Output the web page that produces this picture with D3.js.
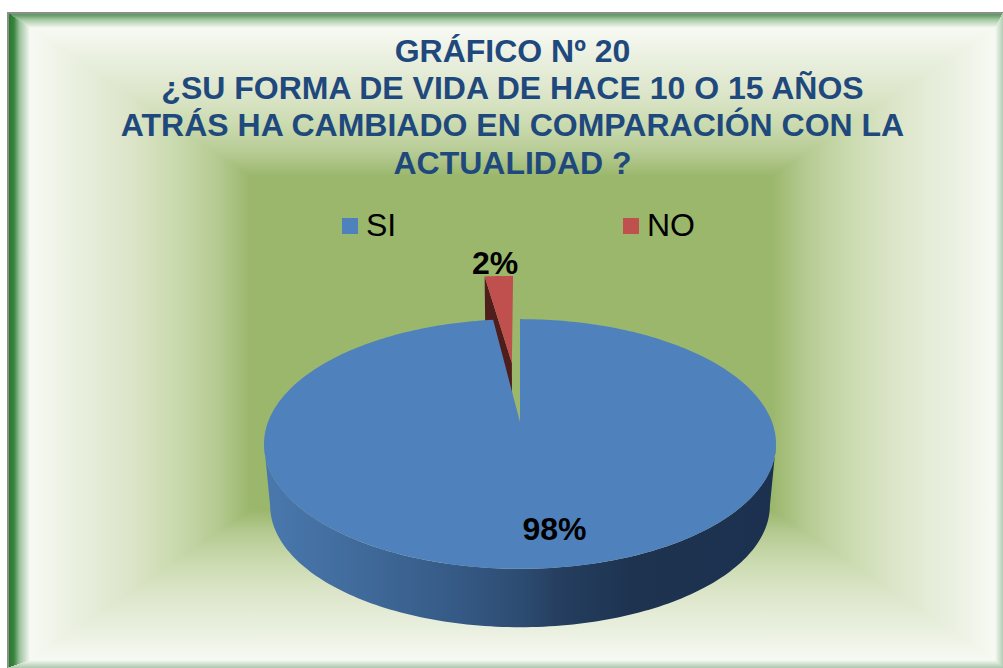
<!DOCTYPE html>
<html>
<head>
<meta charset="utf-8">
<title>Gráfico 20</title>
<script src="https://cdn.jsdelivr.net/npm/d3@7"></script>
<style>
  html, body { margin: 0; padding: 0; background: #fff; overflow: hidden; }
  text { font-family: "Liberation Sans", Arial, sans-serif; }
</style>
</head>
<body>
<div id="chart"></div>
<script>
const categories = ['SI', 'NO'];
const values = [98, 2];
const percentLabels = ['98%', '2%'];
const titleLines = [
    'GRÁFICO Nº 20',
    '¿SU FORMA DE VIDA DE HACE 10 O 15 AÑOS',
    'ATRÁS HA CAMBIADO EN COMPARACIÓN CON LA',
    'ACTUALIDAD ?'
];
const topColors = ['#4f81bd', '#c0504d'];
const wallColors = ['#1c314f', '#4f1d1c'];

const W = 1003, H = 668;

const svg = d3.select('#chart').append('svg')
    .attr('width', W).attr('height', H)
    .style('display', 'block');
const defs = svg.append('defs');

// ---- marco y fondo ----
const outer = {x0: 30, y0: 28, x1: 995, y1: 660};
const inner = {x0: 250, y0: 176, x1: 772, y1: 510};
const bgStops = [
    [0, '#f7f9f3'], [0.2, '#eaf0e0'], [0.45, '#dce5c9'], [0.65, '#cbdbb0'], [0.85, '#b5ca92'], [1, '#9bb76c']
];

function bandGradient(id, x1, y1, x2, y2, stops) {
    const g = defs.append('linearGradient').attr('id', id)
        .attr('gradientUnits', 'userSpaceOnUse')
        .attr('x1', x1).attr('y1', y1).attr('x2', x2).attr('y2', y2);
    stops.forEach(s => g.append('stop').attr('offset', s[0]).attr('stop-color', s[1]));
}

bandGradient('bg-left', outer.x0, 0, inner.x0, 0, bgStops);
bandGradient('bg-right', outer.x1, 0, inner.x1, 0, bgStops);
bandGradient('bg-top', 0, outer.y0, 0, inner.y0, bgStops);
bandGradient('bg-bottom', 0, outer.y1, 0, inner.y1, bgStops);

// borde biselado: izquierda fuerte, derecha y abajo palidos
bandGradient('edge-left', 7, 0, 30, 0, [[0, '#8a8f8a'], [0.07, '#8a8f8a'], [0.1, '#2a7a30'], [0.3, '#37843c'], [0.55, '#9cc29f'], [1, '#f7f9f3']]);
bandGradient('edge-top', 0, 12, 0, 28, [[0, '#8a8f8a'], [0.1, '#8a8f8a'], [0.18, '#5f9a60'], [0.5, '#a9cba8'], [1, '#f7f9f3']]);
bandGradient('edge-right', 1003, 0, 995, 0, [[0, '#b2cfb4'], [1, '#f7f9f3']]);
bandGradient('edge-bottom', 0, 668, 0, 660, [[0, '#a9c9ab'], [1, '#f7f9f3']]);

const bg = svg.append('g').attr('shape-rendering', 'crispEdges');
const poly = pts => pts.map(p => p.join(',')).join(' ');
bg.append('rect').attr('x', 7).attr('y', 12).attr('width', W - 7).attr('height', H - 12).attr('fill', '#f7f9f3');

bg.append('polygon').attr('fill', 'url(#bg-left)')
    .attr('points', poly([[outer.x0, outer.y0], [inner.x0, inner.y0], [inner.x0, inner.y1], [outer.x0, outer.y1]]));
bg.append('polygon').attr('fill', 'url(#bg-right)')
    .attr('points', poly([[outer.x1, outer.y0], [inner.x1, inner.y0], [inner.x1, inner.y1], [outer.x1, outer.y1]]));
bg.append('polygon').attr('fill', 'url(#bg-top)')
    .attr('points', poly([[outer.x0, outer.y0], [outer.x1, outer.y0], [inner.x1, inner.y0], [inner.x0, inner.y0]]));
bg.append('polygon').attr('fill', 'url(#bg-bottom)')
    .attr('points', poly([[outer.x0, outer.y1], [outer.x1, outer.y1], [inner.x1, inner.y1], [inner.x0, inner.y1]]));
bg.append('rect').attr('x', inner.x0).attr('y', inner.y0)
    .attr('width', inner.x1 - inner.x0).attr('height', inner.y1 - inner.y0).attr('fill', '#9bb76c');

bg.append('polygon').attr('fill', 'url(#edge-top)')
    .attr('points', poly([[7, 12], [W, 12], [995, 28], [30, 28]]));
bg.append('polygon').attr('fill', 'url(#edge-bottom)')
    .attr('points', poly([[7, H], [W, H], [995, 660], [30, 660]]));
bg.append('polygon').attr('fill', 'url(#edge-right)')
    .attr('points', poly([[W, 12], [995, 28], [995, 660], [W, H]]));
bg.append('polygon').attr('fill', 'url(#edge-left)')
    .attr('points', poly([[7, 12], [30, 28], [30, 660], [7, H]]));

// ---- titulo ----
const titleBase = [62, 99, 136, 173.5];
svg.append('g').selectAll('text').data(titleLines).enter().append('text')
    .attr('x', 512.5)
    .attr('y', (d, i) => titleBase[i])
    .attr('text-anchor', 'middle')
    .attr('font-size', 32)
    .attr('font-weight', 'bold')
    .attr('fill', '#1f497d')
    .text(d => d);

// ---- leyenda ----
const legendX = d3.scaleOrdinal().domain(categories).range([342, 623]);
const legend = svg.append('g').selectAll('g').data(categories).enter().append('g')
    .attr('transform', d => `translate(${legendX(d)},218)`);
legend.append('rect')
    .attr('width', 16).attr('height', 16)
    .attr('fill', (d, i) => topColors[i]);
legend.append('text')
    .attr('x', 24).attr('y', 18)
    .attr('font-size', 32)
    .attr('fill', '#000')
    .text(d => d);

// ---- torta 3D en perspectiva ----
const pie = d3.pie().sort(null).startAngle(0).endAngle(2 * Math.PI);
const arcs = pie(values);

// proyeccion: el circulo unitario se deforma, lo lejano queda mas chico
const persp = 0.176;
const topPlane = {cx: 520, cy: 422, rx: 252, ry: 121};
const lowPlane = {cx: 520, cy: 484, rx: 246, ry: 118};
// la porcion separada se ve un poco mas ancha en el original
const noTopPlane = {cx: 520.7, cy: 422, rx: 288, ry: 121};
const noLowPlane = {cx: 520.7, cy: 484, rx: 282, ry: 118};

function project(plane, ux, uy) {
    const w = 1 + persp * uy;
    return [plane.cx + plane.rx * ux / w, plane.cy - plane.ry * uy / w];
}

function rimPoints(plane, a0, a1, off) {
    const n = Math.max(2, Math.ceil(Math.abs(a1 - a0) / 0.02));
    return d3.range(n + 1).map(i => {
        const a = a0 + (a1 - a0) * i / n;
        return project(plane, Math.sin(a) + off[0], Math.cos(a) + off[1]);
    });
}

const line = d3.line();
const noOffset = [0, 0];

// desplazamiento de la porcion NO, separada hacia atras
const noArc = arcs[1];
const noMid = (noArc.startAngle + noArc.endAngle) / 2;
const noOff = [Math.sin(noMid) * 0.534, Math.cos(noMid) * 0.534];

const pieG = svg.append('g');

// pared oscura de la porcion NO (queda tapada en parte por SI)
pieG.append('path')
    .attr('fill', wallColors[1])
    .attr('d', line([
        project(noTopPlane, noOff[0], noOff[1]),
        project(noTopPlane, noOff[0] + Math.sin(noArc.startAngle), noOff[1] + Math.cos(noArc.startAngle)),
        project(noLowPlane, noOff[0] + Math.sin(noArc.startAngle), noOff[1] + Math.cos(noArc.startAngle)),
        project(noLowPlane, noOff[0], noOff[1])
    ]) + 'Z');

pieG.append('path')
    .attr('fill', topColors[1])
    .attr('d', line([project(noTopPlane, noOff[0], noOff[1])]
        .concat(rimPoints(noTopPlane, noArc.startAngle, noArc.endAngle, noOff))) + 'Z');

// pared frontal de SI
bandGradient('wall-si', 265, 0, 777, 0, [
    [0, '#4a78ae'], [0.2, '#3f6999'], [0.37, '#365a86'], [0.5, '#2d4c72'], [0.57, '#263f60'], [0.72, '#1d3350'], [1, wallColors[0]]
]);
const wallA0 = Math.PI / 2 + Math.asin(persp);
const wallA1 = 2 * Math.PI - wallA0;
pieG.append('path')
    .attr('fill', 'url(#wall-si)')
    .attr('d', line(rimPoints(topPlane, wallA0, wallA1, noOffset)
        .concat(rimPoints(lowPlane, wallA1, wallA0, noOffset))) + 'Z');

// cara superior de SI
const siArc = arcs[0];
pieG.append('path')
    .attr('fill', topColors[0])
    .attr('d', line([project(topPlane, 0, 0)]
        .concat(rimPoints(topPlane, siArc.startAngle, siArc.endAngle, noOffset))) + 'Z');

// ---- etiquetas ----
const labelPos = [[554.5, 540], [495, 274]];
svg.append('g').selectAll('text').data(percentLabels).enter().append('text')
    .attr('x', (d, i) => labelPos[i][0])
    .attr('y', (d, i) => labelPos[i][1])
    .attr('text-anchor', 'middle')
    .attr('font-size', 32)
    .attr('font-weight', 'bold')
    .attr('fill', '#000')
    .text(d => d);
</script>
</body>
</html>
